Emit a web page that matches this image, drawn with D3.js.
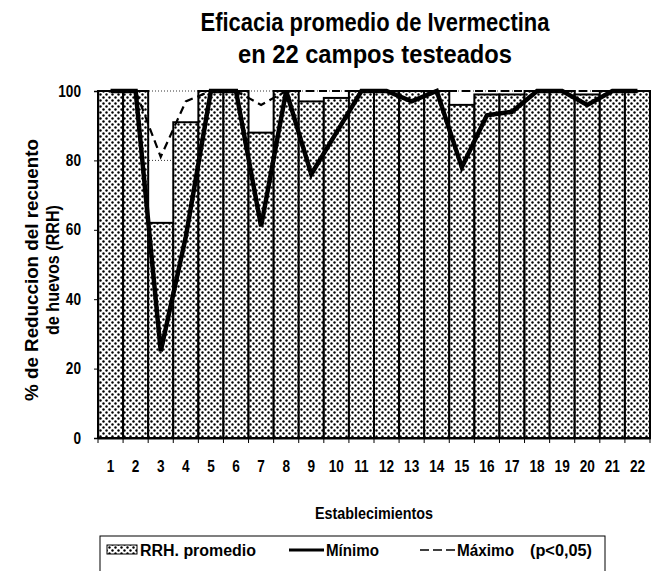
<!DOCTYPE html>
<html>
<head>
<meta charset="utf-8">
<script src="https://cdn.jsdelivr.net/npm/d3@7"></script>
<style>
  body { margin: 0; background: #fff; }
  svg text { font-family: "Liberation Sans Narrow", "Arial Narrow", "Liberation Sans", Arial, sans-serif; font-weight: bold; fill: #000; }
</style>
</head>
<body>
<div id="chart"></div>
<script>
const campos = d3.range(1, 23).map(String)
const promedio = [100, 100, 62, 91, 100, 100, 88, 100, 97, 98, 100, 100, 100, 100, 96, 99, 99, 100, 100, 99, 100, 100]
const minimo = [100, 100, 25, 58, 100, 100, 61, 100, 76, 88, 100, 100, 97, 100, 78, 93, 94, 100, 100, 96, 100, 100]
const maximo = [100, 100, 81, 97, 100, 100, 96, 100, 100, 100, 100, 100, 100, 100, 100, 100, 100, 100, 100, 100, 100, 100]
const yTicks = [0, 20, 40, 60, 80, 100]

const fullwidth = 660, fullheight = 571
const plotLeft = 98, plotRight = 650, plotTop = 91, plotBottom = 438

// squeeze text to look like the narrow bold face of the original
const squeeze = (sel, k = 0.85) => sel.each(function () {
  const len = this.getComputedTextLength()
  d3.select(this).attr("textLength", len * k).attr("lengthAdjust", "spacingAndGlyphs")
})
const fit = (sel, len) => sel.attr("textLength", len).attr("lengthAdjust", "spacingAndGlyphs")

const svg = d3.select("#chart").append("svg")
  .attr("width", fullwidth)
  .attr("height", fullheight)

// dotted fill like the scanned original
const defs = svg.append("defs")
const pat = defs.append("pattern")
  .attr("id", "dots")
  .attr("patternUnits", "userSpaceOnUse")
  .attr("width", 6).attr("height", 6)
pat.append("rect").attr("width", 6).attr("height", 6).attr("fill", "#fff")
pat.append("circle").attr("cx", 1.5).attr("cy", 1.5).attr("r", 1.2).attr("fill", "#000")
pat.append("circle").attr("cx", 4.5).attr("cy", 4.5).attr("r", 1.2).attr("fill", "#000")

const x = d3.scaleBand().domain(campos).range([plotLeft, plotRight]).padding(0)
const y = d3.scaleLinear().domain([0, 100]).range([plotBottom, plotTop])

// title
fit(svg.append("text")
  .attr("x", 375).attr("y", 31)
  .attr("text-anchor", "middle")
  .style("font-size", "25px")
  .text("Eficacia promedio de Ivermectina"), 349)
fit(svg.append("text")
  .attr("x", 375).attr("y", 63)
  .attr("text-anchor", "middle")
  .style("font-size", "25px")
  .text("en 22 campos testeados"), 274)

// gridlines (only show through the gaps)
svg.append("g")
  .selectAll("line")
  .data(yTicks.filter(d => d > 0))
  .enter().append("line")
  .attr("x1", plotLeft).attr("x2", plotRight)
  .attr("y1", d => y(d)).attr("y2", d => y(d))
  .attr("stroke", "#000")
  .attr("stroke-width", 0.8)
  .attr("stroke-dasharray", "1,2")

// bars
svg.append("g")
  .selectAll("rect")
  .data(promedio)
  .enter().append("rect")
  .attr("x", (d, i) => x(campos[i]))
  .attr("y", d => y(d))
  .attr("width", x.bandwidth())
  .attr("height", d => plotBottom - y(d))
  .attr("fill", "url(#dots)")
  .attr("stroke", "#000")
  .attr("stroke-width", 2)

// y axis
const yAxis = svg.append("g")
  .attr("transform", `translate(${plotLeft},0)`)
  .call(d3.axisLeft(y).tickValues(yTicks).tickSize(4).tickPadding(13))
yAxis.select(".domain").attr("stroke-width", 1.5)
yAxis.selectAll("text").style("font-size", "16px").call(squeeze, 0.85)

// x axis, ticks at band edges
const xAxis = svg.append("g")
  .attr("transform", `translate(0,${plotBottom})`)
  .call(d3.axisBottom(x).tickSize(0).tickPadding(23))
xAxis.select(".domain").attr("stroke-width", 2)
xAxis.selectAll("text").style("font-size", "16px").call(squeeze, 0.85)
svg.append("g")
  .selectAll("line")
  .data(campos.concat(["end"]))
  .enter().append("line")
  .attr("x1", (d, i) => i < campos.length ? x(d) : plotRight)
  .attr("x2", (d, i) => i < campos.length ? x(d) : plotRight)
  .attr("y1", plotBottom).attr("y2", plotBottom + 5)
  .attr("stroke", "#000")

// lines
const line = d3.line()
  .x((d, i) => x(campos[i]) + x.bandwidth() / 2)
  .y(d => y(d))

svg.append("path")
  .datum(maximo)
  .attr("d", line)
  .attr("fill", "none")
  .attr("stroke", "#000")
  .attr("stroke-width", 2.2)
  .attr("stroke-dasharray", "8,5")

svg.append("path")
  .datum(minimo)
  .attr("d", line)
  .attr("fill", "none")
  .attr("stroke", "#000")
  .attr("stroke-width", 4.5)
  .attr("stroke-linejoin", "miter")

// y axis title
fit(svg.append("text")
  .attr("transform", "translate(38,270) rotate(-90)")
  .attr("text-anchor", "middle")
  .style("font-size", "18px")
  .text("% de Reduccion del recuento"), 262)
fit(svg.append("text")
  .attr("transform", "translate(59,270) rotate(-90)")
  .attr("text-anchor", "middle")
  .style("font-size", "18px")
  .text("de huevos (RRH)"), 130)

// x axis title
fit(svg.append("text")
  .attr("x", 374).attr("y", 519)
  .attr("text-anchor", "middle")
  .style("font-size", "16px")
  .text("Establecimientos"), 118)

// legend
const legend = svg.append("g").attr("class", "legend")
legend.append("rect")
  .attr("x", 100).attr("y", 536)
  .attr("width", 505).attr("height", 40)
  .attr("fill", "#fff")
  .attr("stroke", "#000")
  .attr("stroke-width", 1)
legend.append("rect")
  .attr("x", 107).attr("y", 545)
  .attr("width", 30).attr("height", 9)
  .attr("fill", "url(#dots)")
  .attr("stroke", "#000")
  .attr("stroke-width", 1)
fit(legend.append("text").attr("x", 140).attr("y", 556).style("font-size", "16px").text("RRH. promedio"), 116)
legend.append("line")
  .attr("x1", 289).attr("x2", 324).attr("y1", 550).attr("y2", 550)
  .attr("stroke", "#000").attr("stroke-width", 3)
fit(legend.append("text").attr("x", 326).attr("y", 556).style("font-size", "16px").text("Mínimo"), 53)
legend.append("line")
  .attr("x1", 420).attr("x2", 455).attr("y1", 550).attr("y2", 550)
  .attr("stroke", "#000").attr("stroke-width", 1.5)
  .attr("stroke-dasharray", "9,4")
fit(legend.append("text").attr("x", 457).attr("y", 556).style("font-size", "16px").text("Máximo"), 57)
fit(legend.append("text").attr("x", 530).attr("y", 556).style("font-size", "16px").text("(p<0,05)"), 62)
</script>
</body>
</html>
